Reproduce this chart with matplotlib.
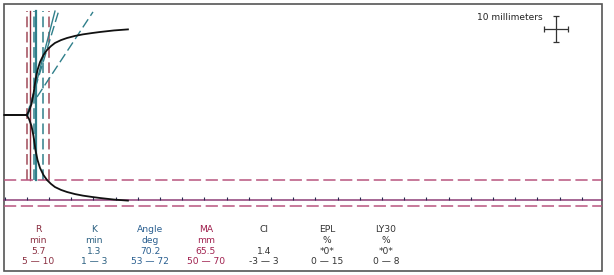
import numpy as np
import matplotlib
matplotlib.use("Agg")
import matplotlib.pyplot as plt
from matplotlib.patches import Rectangle

# --- tracing data (minutes, mm half-amplitude) ---
time_min = [0.0, 5.0, 5.52, 6.08, 6.53, 6.98, 7.43, 8.0, 8.78, 9.57, 10.47,
            11.37, 12.73, 14.08, 15.88, 17.68, 19.71, 21.5, 24.66, 27.8]
amp_mm = [0.0, 0.0, 1.53, 4.21, 8.05, 13.4, 17.2, 20.3, 23.0, 24.9, 26.4,
          27.6, 28.7, 29.5, 30.3, 30.9, 31.4, 31.8, 32.4, 32.8]

R_val = 5.7
K_val = 1.3
MA_val = 65.5
R_range = [5, 10]
K_range = [1, 3]
MA_range = [50, 70]

# angle construction lines: (t0, a0, t1, a1)
angle_solid = [5.29, 0.0, 11.37, 39.8]
angle_hi = [5.07, 0.0, 12.27, 40.2]
angle_lo = [7.32, 6.9, 19.93, 39.5]

tick_times = np.arange(0, 135, 5)

labels = ["R", "K", "Angle", "MA", "CI", "EPL", "LY30"]
units = ["min", "min", "deg", "mm", "", "%", "%"]
values = ["5.7", "1.3", "70.2", "65.5", "1.4", "*0*", "*0*"]
ranges = ["5 \u2014 10", "1 \u2014 3", "53 \u2014 72", "50 \u2014 70",
          "-3 \u2014 3", "0 \u2014 15", "0 \u2014 8"]
colors = ["#8a2e40", "#2a5f80", "#2a5f90", "#a0204e", "#333333", "#333333", "#333333"]
col_x = [38, 94, 150, 206, 264, 327, 386]

# --- pixel mapping of the tracing area ---
W, H = 614, 275
X0, PX_MIN = 4.5, 4.44
Y0, PX_MM = 115.0, 2.61

fig = plt.figure(figsize=(W / 100, H / 100), dpi=100)
ax = fig.add_axes([0, 0, 1, 1])
ax.set_xlim(-X0 / PX_MIN, (W - X0) / PX_MIN)
ax.set_ylim(-(H - Y0) / PX_MM, Y0 / PX_MM)
ax.axis("off")

x_left = -0.1
x_right = (602 - X0) / PX_MIN
top_mm = (Y0 - 11) / PX_MM
low_ma = -MA_range[0] / 2

red = "#a04a58"
teal = "#2f7f8a"
pink = "#b8557e"

# vertical reference lines
for t in R_range:
    ax.plot([t, t], [low_ma, top_mm], color=red, lw=1.1, dashes=(7, 3))
ax.plot([R_val, R_val], [low_ma, top_mm], color="#8b2a3a", lw=1.0)
for k in K_range:
    ax.plot([R_val + k] * 2, [low_ma, top_mm], color=teal, lw=1.1, dashes=(7, 3))
ax.plot([R_val + K_val] * 2, [low_ma, top_mm], color=teal, lw=1.6)

# angle lines
ax.plot(angle_solid[::2], angle_solid[1::2], color=teal, lw=1.0)
ax.plot(angle_hi[::2], angle_hi[1::2], color=teal, lw=1.0, dashes=(7, 3))
ax.plot(angle_lo[::2], angle_lo[1::2], color=teal, lw=1.0, dashes=(7, 3))

# MA reference lines
for m in MA_range:
    ax.plot([x_left, x_right], [-m / 2] * 2, color=pink, lw=1.1, dashes=(8, 3))
ax.plot([x_left, x_right], [-MA_val / 2] * 2, color="#8e3f78", lw=1.1)
ax.vlines(tick_times, -MA_val / 2, -MA_val / 2 + 1.2, color="#2a2a50", lw=0.8)

# tracing
ax.plot(time_min, amp_mm, color="#111111", lw=1.3)
ax.plot(time_min, -np.array(amp_mm), color="#111111", lw=1.3)

# 10 mm scale cross
ax.errorbar([124.2], [33.0], xerr=[2.8], yerr=[5.0], color="#333333",
            lw=0.9, capsize=2, capthick=0.9)
fig.text(543 / W, 1 - 17 / H, "10 millimeters", ha="right", va="center",
         fontsize=6.5, color="#222222")

# frame
ax.add_patch(Rectangle((3.5 / W, 1 - 271 / H), (602 - 3.5) / W, (271 - 3.5) / H,
                       transform=fig.transFigure, fill=False,
                       edgecolor="#555555", lw=1.2))

# stats text
rows_y = [230, 240.5, 251, 261]
for i in range(len(labels)):
    c = colors[i]
    for j, s in enumerate([labels[i], units[i], values[i], ranges[i]]):
        if s:
            fig.text(col_x[i] / W, 1 - rows_y[j] / H, s, ha="center",
                     va="center", fontsize=6.6, color=c)

fig.savefig("out.png", dpi=100)
